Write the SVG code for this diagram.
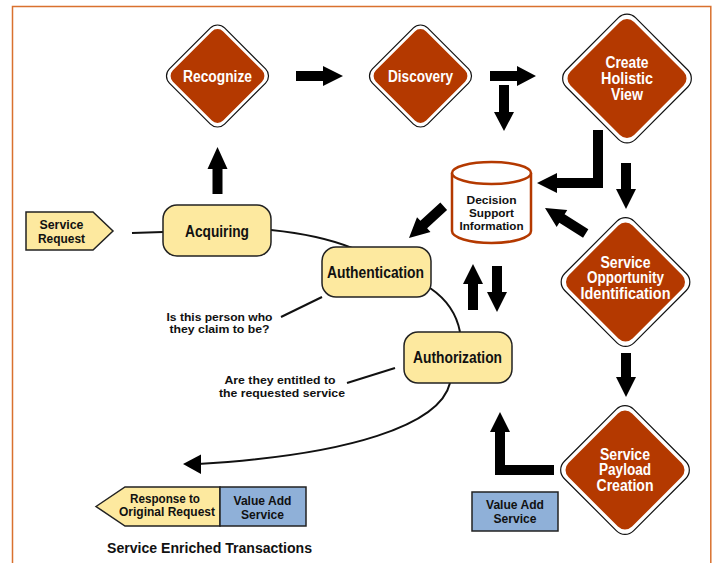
<svg xmlns="http://www.w3.org/2000/svg" width="713" height="563" viewBox="0 0 713 563">
  <style>
    text { font-family: "Liberation Sans", Arial, sans-serif; font-weight: bold; text-anchor: middle; }
    .dtxt { fill: #ffffff; font-size: 16px; }
    .ntxt { fill: #111111; font-size: 16px; }
    .stxt { fill: #111111; font-size: 12.5px; }
    .ctxt { fill: #111111; font-size: 11.5px; }
    .dout { fill: #ffffff; stroke: #111111; stroke-width: 1.2; }
    .din { fill: #b43900; }
    .box { fill: #fde99f; stroke: #222222; stroke-width: 1.5; }
    .blue { fill: #8fb0d8; stroke: #222222; stroke-width: 1.5; }
    .line { fill: none; stroke: #111111; stroke-width: 2; }
    .arrow { fill: #000000; }
    .frame { fill: none; stroke: #d9712e; stroke-width: 1.5; }
  </style>

  <!-- outer frame -->
  <path class="frame" d="M12.5,564 V6.5 H710.8 V564"/>

  <!-- connectors -->
  <g id="connectors">
    <path class="line" d="M132,233 L163,232"/>
    <path class="line" d="M271,230 Q320,235 352,248"/>
    <path class="line" d="M430,288 Q455,305 460,332"/>
    <path class="line" d="M450,383 C440,425 350,455 198,464"/>
    <path class="arrow" d="M183,464 L201,454.5 V474 Z"/>
    <path class="line" d="M281,317 L322,297"/>
    <path class="line" d="M347,383 L395,368"/>

    <!-- block arrows -->
    <path class="arrow" d="M296,71 H323 V66 L343,76 L323,86 V81 H296 Z"/>
    <path class="arrow" d="M212.5,194 V169 H207.5 L217.5,147 L227.5,169 H222.5 V194 Z"/>
    <path class="arrow" d="M490,71 H517 V66 L536,76 L517,86 V81 H490 Z"/>
    <path class="arrow" d="M499,85 V112 H494 L504,131 L514,112 H509 V85 Z"/>
    <path class="arrow" d="M593,130 H603 V188 H557 V193 L537,183 L557,173 V178 H593 Z"/>
    <path class="arrow" d="M621,163 V189 H616 L626,209 L636,189 H631 V163 Z"/>
    <path class="arrow" transform="translate(545,208) rotate(32)" d="M0,0 L20,-10 V-5 H48 V5 H20 V10 Z"/>
    <path class="arrow" transform="translate(409,238) rotate(-42.4)" d="M0,0 L20,-10 V-5 H47 V5 H20 V10 Z"/>
    <path class="arrow" d="M468,310 V284 H463 L473,264 L483,284 H478 V310 Z"/>
    <path class="arrow" d="M492,266 V292 H487 L497,312 L507,292 H502 V266 Z"/>
    <path class="arrow" d="M621,353 V377 H616 L626,397 L636,377 H631 V353 Z"/>
    <path class="arrow" d="M554,465 V475 H495 V432 H490 L500,412 L510,432 H505 V465 Z"/>
  </g>

  <!-- diamond stages -->
  <g id="recognize">
    <rect class="dout" x="-39" y="-39" width="78" height="78" rx="10" transform="translate(217.5,76) rotate(45)"/>
    <rect class="din" x="-35.5" y="-35.5" width="71" height="71" rx="8" transform="translate(217.5,76) rotate(45)"/>
    <text class="dtxt" x="217.5" y="81.5" textLength="69" lengthAdjust="spacingAndGlyphs">Recognize</text>
  </g>
  <g id="discovery">
    <rect class="dout" x="-39" y="-39" width="78" height="78" rx="10" transform="translate(420.5,76) rotate(45)"/>
    <rect class="din" x="-35.5" y="-35.5" width="71" height="71" rx="8" transform="translate(420.5,76) rotate(45)"/>
    <text class="dtxt" x="420.5" y="81.5" textLength="65" lengthAdjust="spacingAndGlyphs">Discovery</text>
  </g>
  <g id="create-holistic-view">
    <rect class="dout" x="-49" y="-49" width="98" height="98" rx="12" transform="translate(627,78.5) rotate(45)"/>
    <rect class="din" x="-45" y="-45" width="90" height="90" rx="10" transform="translate(627,78.5) rotate(45)"/>
    <text class="dtxt" x="627" y="68" textLength="43" lengthAdjust="spacingAndGlyphs">Create</text>
    <text class="dtxt" x="627" y="84" textLength="52" lengthAdjust="spacingAndGlyphs">Holistic</text>
    <text class="dtxt" x="627" y="100" textLength="32" lengthAdjust="spacingAndGlyphs">View</text>
  </g>
  <g id="service-opportunity">
    <rect class="dout" x="-49" y="-49" width="98" height="98" rx="12" transform="translate(625.5,282) rotate(45)"/>
    <rect class="din" x="-45" y="-45" width="90" height="90" rx="10" transform="translate(625.5,282) rotate(45)"/>
    <text class="dtxt" x="625.5" y="267.5" textLength="50" lengthAdjust="spacingAndGlyphs">Service</text>
    <text class="dtxt" x="625.5" y="283" textLength="77" lengthAdjust="spacingAndGlyphs">Opportunity</text>
    <text class="dtxt" x="625.5" y="298.5" textLength="90" lengthAdjust="spacingAndGlyphs">Identification</text>
  </g>
  <g id="service-payload">
    <rect class="dout" x="-49" y="-49" width="98" height="98" rx="12" transform="translate(625,470) rotate(45)"/>
    <rect class="din" x="-45" y="-45" width="90" height="90" rx="10" transform="translate(625,470) rotate(45)"/>
    <text class="dtxt" x="625" y="459.5" textLength="50" lengthAdjust="spacingAndGlyphs">Service</text>
    <text class="dtxt" x="625" y="475" textLength="52" lengthAdjust="spacingAndGlyphs">Payload</text>
    <text class="dtxt" x="625" y="490.5" textLength="57" lengthAdjust="spacingAndGlyphs">Creation</text>
  </g>

  <!-- data store -->
  <g id="decision-support">
    <path d="M452,173 V231 A39.5,12 0 0 0 531,231 V173" fill="#ffffff" stroke="#b43900" stroke-width="2.5"/>
    <ellipse cx="491.5" cy="173" rx="39.5" ry="11" fill="#ffffff" stroke="#b43900" stroke-width="2.5"/>
    <text class="ctxt" x="491.5" y="203.5" textLength="50" lengthAdjust="spacingAndGlyphs">Decision</text>
    <text class="ctxt" x="491.5" y="216.5" textLength="45" lengthAdjust="spacingAndGlyphs">Support</text>
    <text class="ctxt" x="491.5" y="230" textLength="64" lengthAdjust="spacingAndGlyphs">Information</text>
  </g>

  <!-- process steps -->
  <g id="service-request">
    <path class="box" d="M26,212 H93 L113,231 L93,250 H26 Z"/>
    <text class="stxt" x="61.5" y="228.5" textLength="44" lengthAdjust="spacingAndGlyphs">Service</text>
    <text class="stxt" x="61.5" y="242.5" textLength="47" lengthAdjust="spacingAndGlyphs">Request</text>
  </g>
  <g id="acquiring">
    <rect class="box" x="163" y="205" width="108" height="51" rx="14"/>
    <text class="ntxt" x="217" y="237" textLength="64" lengthAdjust="spacingAndGlyphs">Acquiring</text>
  </g>
  <g id="authentication">
    <rect class="box" x="322" y="247" width="109" height="50" rx="14"/>
    <text class="ntxt" x="375.5" y="278" textLength="97" lengthAdjust="spacingAndGlyphs">Authentication</text>
  </g>
  <g id="authorization">
    <rect class="box" x="404" y="332" width="108" height="51" rx="14"/>
    <text class="ntxt" x="457.5" y="363" textLength="89" lengthAdjust="spacingAndGlyphs">Authorization</text>
  </g>

  <!-- callouts -->
  <g id="callout-authentication">
    <text class="ctxt" x="219.5" y="320.5" textLength="106" lengthAdjust="spacingAndGlyphs">Is this person who</text>
    <text class="ctxt" x="219.5" y="332.5" textLength="100" lengthAdjust="spacingAndGlyphs">they claim to be?</text>
  </g>
  <g id="callout-authorization">
    <text class="ctxt" x="280" y="383.5" textLength="111" lengthAdjust="spacingAndGlyphs">Are they entitled to</text>
    <text class="ctxt" x="282" y="397" textLength="126" lengthAdjust="spacingAndGlyphs">the requested service</text>
  </g>

  <!-- outputs -->
  <g id="response">
    <path class="box" d="M96,506.5 L125,487 H220 V526 H125 Z"/>
    <text class="stxt" x="165" y="502.5" textLength="70" lengthAdjust="spacingAndGlyphs">Response to</text>
    <text class="stxt" x="167" y="515.5" textLength="96" lengthAdjust="spacingAndGlyphs">Original Request</text>
  </g>
  <g id="value-add-response">
    <rect class="blue" x="220" y="487" width="86" height="39"/>
    <text class="stxt" x="262.5" y="504.5" textLength="58" lengthAdjust="spacingAndGlyphs">Value Add</text>
    <text class="stxt" x="262.5" y="518.5" textLength="43" lengthAdjust="spacingAndGlyphs">Service</text>
  </g>
  <g id="value-add-payload">
    <rect class="blue" x="472" y="492" width="86" height="39"/>
    <text class="stxt" x="515" y="509" textLength="58" lengthAdjust="spacingAndGlyphs">Value Add</text>
    <text class="stxt" x="515" y="522.5" textLength="43" lengthAdjust="spacingAndGlyphs">Service</text>
  </g>

  <text class="ntxt" x="209.5" y="553" style="font-size:14px" textLength="205" lengthAdjust="spacingAndGlyphs">Service Enriched Transactions</text>
</svg>
